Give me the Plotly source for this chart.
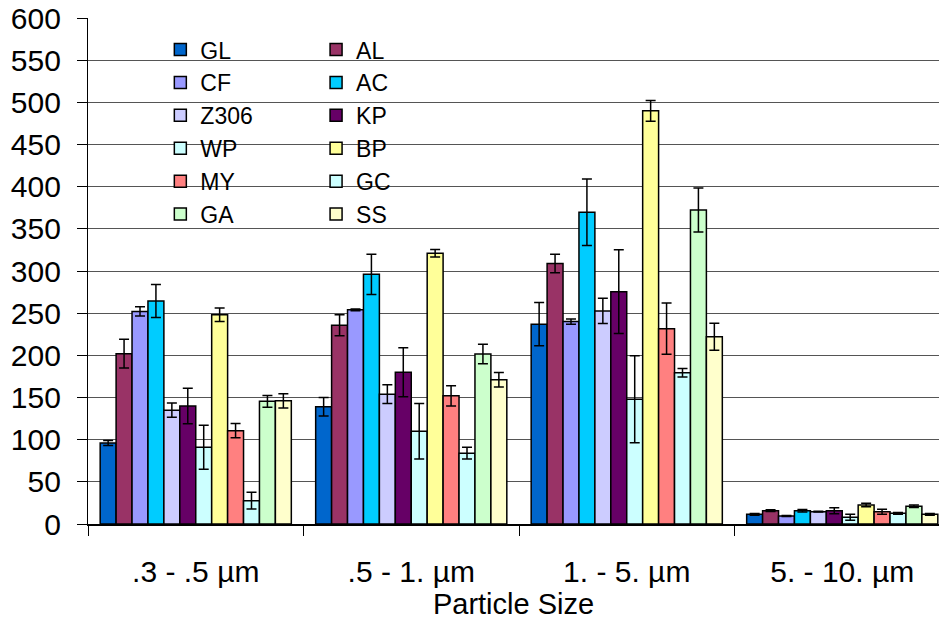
import plotly.graph_objects as go

categories = [".3 - .5 µm", ".5 - 1. µm", "1. - 5. µm", "5. - 10. µm"]

GL = [96, 139, 237, 11.5]
GL_err = [3, 11, 25.7, 1]
AL = [202, 235.6, 309, 15.8]
AL_err = [17, 12.5, 11, 1]
CF = [252, 254, 240, 9.5]
CF_err = [5.5, 1, 3, 0.5]
AC = [264.4, 296, 369.6, 15.8]
AC_err = [19.5, 24, 39.5, 1.5]
Z306 = [135, 154, 252.6, 14.6]
Z306_err = [8.5, 11, 15, 0.5]
KP = [140, 180, 275.5, 15.8]
KP_err = [21, 29, 49.6, 3.5]
WP = [91, 110, 148, 8]
WP_err = [26, 33, 51.6, 3.5]
BP = [248, 321, 490, 22.5]
BP_err = [8, 4.5, 12.3, 2]
MY = [110.7, 152, 231.6, 14.6]
MY_err = [8.5, 12, 30.4, 3]
GC = [27.7, 84, 179.4, 12.6]
GC_err = [10, 7, 5, 1]
GA = [145.5, 201.6, 372.3, 21]
GA_err = [7, 11.5, 26, 1.5]
SS = [146, 171, 222, 11.5]
SS_err = [8.5, 8.5, 16, 1]

series = [
    ("GL", GL, GL_err, "#0066CC", "legend"),
    ("AL", AL, AL_err, "#993366", "legend2"),
    ("CF", CF, CF_err, "#9999FF", "legend"),
    ("AC", AC, AC_err, "#00CCFF", "legend2"),
    ("Z306", Z306, Z306_err, "#CCCCFF", "legend"),
    ("KP", KP, KP_err, "#660066", "legend2"),
    ("WP", WP, WP_err, "#CCFFFF", "legend"),
    ("BP", BP, BP_err, "#FFFF99", "legend2"),
    ("MY", MY, MY_err, "#FF8080", "legend"),
    ("GC", GC, GC_err, "#CCFFFF", "legend2"),
    ("GA", GA, GA_err, "#CCFFCC", "legend"),
    ("SS", SS, SS_err, "#FFFFCC", "legend2"),
]

FONT = "Liberation Sans, Arial, sans-serif"

fig = go.Figure()
for name, vals, errs, color, lg in series:
    fig.add_trace(go.Bar(
        name=name, x=categories, y=vals,
        marker=dict(color=color, line=dict(color="black", width=1.5)),
        error_y=dict(type="data", array=errs, visible=True,
                     color="black", thickness=1.5, width=5),
        legend=lg,
    ))

legend_common = dict(
    font=dict(family=FONT, size=23, color="black"),
    bgcolor="rgba(0,0,0,0)", borderwidth=0,
    yanchor="top", xanchor="left", traceorder="normal",
    orientation="v",
)

fig.update_layout(
    width=939, height=622,
    margin=dict(l=88, r=0, t=18, b=98),
    paper_bgcolor="white", plot_bgcolor="white",
    barmode="group", bargap=0.113, bargroupgap=0,
    font=dict(family=FONT, size=30, color="black"),
    showlegend=True,
    legend=dict(x=0.085, y=0.98, **legend_common),
    legend2=dict(x=0.268, y=0.98, **legend_common),
    xaxis=dict(
        range=[-0.5, 3.449],
        title=dict(text="Particle Size", font=dict(size=29), standoff=4),
        tickson="boundaries", ticks="outside", ticklen=10,
        tickcolor="black", tickwidth=1,
        showline=True, linecolor="black", linewidth=1.5,
        showgrid=False, tickfont=dict(size=30),
        ticklabelstandoff=20,
    ),
    yaxis=dict(
        range=[0, 600], dtick=50, tick0=0,
        ticks="outside", ticklen=10, tickcolor="black", tickwidth=1,
        showline=True, linecolor="black", linewidth=1.2,
        showgrid=True, gridcolor="#555555", gridwidth=1.2,
        zeroline=False, tickfont=dict(size=30),
        ticklabelstandoff=10,
    ),
)

fig.write_html("out.html")
